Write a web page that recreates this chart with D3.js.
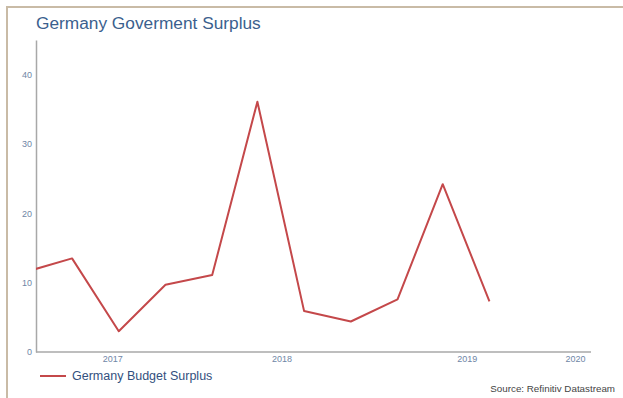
<!DOCTYPE html>
<html>
<head>
<meta charset="utf-8">
<script src="https://cdn.jsdelivr.net/npm/d3@7"></script>
<style>
	body { margin: 0; background: #fff; }
	svg { display: block; font-family: "Liberation Sans", Arial, sans-serif; }
</style>
</head>
<body>
<svg id="chart" width="623" height="398"></svg>
<script>
// quarterly observations (mid-quarter dates)
const quarters = ['2017-02-15', '2017-05-15', '2017-08-15', '2017-11-15',
	'2018-02-15', '2018-05-15', '2018-08-15', '2018-11-15',
	'2019-02-15', '2019-05-15', '2019-08-15'];
const surplus = [11.6, 13.5, 3.0, 9.7, 11.1, 36.1, 5.9, 4.4, 7.6, 24.2, 7.3];
const yearLabels = ['2017', '2018', '2019', '2020'];
const yTicks = [0, 10, 20, 30, 40];
const xDomain = ['2017-03-05', '2020-03-02'];
const yDomain = [0, 45];

const parse = d3.utcParse('%Y-%m-%d');
const width = 623, height = 398;
const margin = {left: 36, right: 32, top: 40, bottom: 46};

const svg = d3.select('#chart');

// frame
svg.append('line').attr('x1', 7).attr('x2', 7).attr('y1', 6).attr('y2', height)
	.attr('stroke', '#c9bba6').attr('stroke-width', 2);
svg.append('line').attr('x1', 6).attr('x2', width).attr('y1', 7).attr('y2', 7)
	.attr('stroke', '#c9bba6').attr('stroke-width', 2);

svg.append('text')
	.attr('x', 36).attr('y', 29)
	.attr('fill', '#3b5f8e')
	.style('font-size', '17.3px')
	.text('Germany Goverment Surplus');

const x = d3.scaleUtc()
	.domain(xDomain.map(parse))
	.range([margin.left, width - margin.right]);
const y = d3.scaleLinear()
	.domain(yDomain)
	.range([height - margin.bottom, margin.top]);

// y axis
const yAxis = svg.append('g')
	.attr('transform', `translate(${margin.left},0)`)
	.call(d3.axisLeft(y).tickValues(yTicks).tickSize(0).tickPadding(4));
yAxis.select('.domain').attr('stroke', '#a8a8a8').attr('stroke-width', 1.5);
yAxis.selectAll('text').attr('fill', '#6f86a6').style('font-size', '9px')
	.style('font-family', '"Liberation Sans", Arial, sans-serif');

// x axis, year labels centred in the visible part of each year
const [x0, x1] = x.range();
const xAxis = svg.append('g')
	.attr('transform', `translate(0,${y(0)})`);
xAxis.append('line').attr('x1', x0).attr('x2', x1)
	.attr('stroke', '#a8a8a8').attr('stroke-width', 1.5);
xAxis.selectAll('text')
	.data(yearLabels)
	.join('text')
	.attr('x', d => {
		const a = Math.max(x(parse(d + '-01-01')), x0);
		const b = Math.min(x(parse((+d + 1) + '-01-01')), x1);
		return (a + b) / 2;
	})
	.attr('y', 10)
	.attr('text-anchor', 'middle')
	.attr('fill', '#6f86a6')
	.style('font-size', '9px')
	.text(d => d);

svg.append('clipPath').attr('id', 'clip')
	.append('rect')
	.attr('x', x0).attr('y', 0)
	.attr('width', x1 - x0).attr('height', height);

const line = d3.line()
	.x((d, i) => x(parse(quarters[i])))
	.y(d => y(d));

svg.append('path')
	.datum(surplus)
	.attr('clip-path', 'url(#clip)')
	.attr('fill', 'none')
	.attr('stroke', '#c4484a')
	.attr('stroke-width', 2)
	.attr('stroke-linejoin', 'round')
	.attr('d', line);

// legend
svg.append('line').attr('x1', 40).attr('x2', 66).attr('y1', 376).attr('y2', 376)
	.attr('stroke', '#c4484a').attr('stroke-width', 2);
svg.append('text')
	.attr('x', 72).attr('y', 380)
	.attr('fill', '#33507e')
	.style('font-size', '12.5px')
	.text('Germany Budget Surplus');

svg.append('text')
	.attr('x', 615).attr('y', 392)
	.attr('text-anchor', 'end')
	.attr('fill', '#444')
	.style('font-size', '9.8px')
	.text('Source: Refinitiv Datastream');
</script>
</body>
</html>
